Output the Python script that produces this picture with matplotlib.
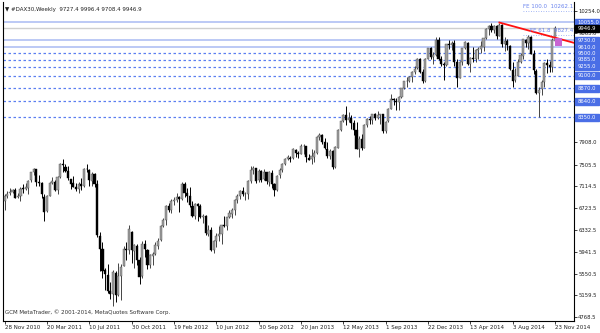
import matplotlib
matplotlib.use("Agg")
import matplotlib.pyplot as plt
import matplotlib.transforms as mtransforms
from matplotlib.patches import Rectangle
import numpy as np

# weekly DAX30 candles, week of 28 Nov 2010 .. week of 23 Nov 2014
opens = [
    6850, 6950, 6990, 7010, 7057,
    6920, 6950, 7080, 7062, 7080, 7220, 7375, 7420, 7190, 7170, 6930, 6670, 6950, 7180, 7200, 7050,
    7290, 7520, 7470, 7390, 7250, 7170, 7100, 7060, 7160, 7130, 7420, 7400, 7210, 7340, 7160, 6220,
    5990, 5610, 5530, 5240, 5180, 5560, 5170, 5500, 5690, 5990, 5980, 6300, 5960, 6050, 5790, 5500,
    6080, 5980, 5710, 5870,
    5900, 6050, 6150, 6400, 6510, 6760, 6690, 6850, 6870, 6920, 6890, 7150, 6990, 6950, 6760, 6580,
    6800, 6760, 6560, 6580, 6260, 6330, 5970, 6140, 6230, 6260, 6420, 6400, 6560, 6620, 6690, 6870,
    6950, 7040, 6970, 6970, 7210, 7410, 7440, 7220, 7390, 7240, 7370, 7200, 7360, 7150, 7050, 7310,
    7410, 7520, 7600, 7630,
    7620, 7770, 7710, 7700, 7830, 7830, 7630, 7600, 7650, 7710, 8000, 8040, 7910, 7790, 7660, 7740,
    7460, 7810, 8120, 8280, 8400, 8300, 8340, 8250, 8130, 7780, 7960, 7810, 8210, 8330, 8300, 8410,
    8340, 8390, 8410, 8100, 8280, 8510, 8670, 8650, 8620, 8720, 8870, 9000, 9010, 9080, 9170, 9230,
    9400, 9170, 9000, 9400,
    9590, 9430, 9470, 9740, 9390, 9300, 9290, 9660, 9650, 9690, 9340, 9060, 9340, 9590, 9690, 9310,
    9410, 9400, 9560, 9580, 9620, 9770, 9940, 9980, 9910, 9980, 9810, 10000, 9660, 9720, 9630, 9200,
    9020, 9100, 9340, 9460, 9740, 9690, 9790, 9480, 9190, 8790, 8860, 8980, 9320, 9290, 9250, 9727.4,
]
highs = [
    6980, 7030, 7080, 7070, 7077,
    7000, 7110, 7160, 7180, 7230, 7380, 7440, 7430, 7310, 7190, 6980, 6960, 7190, 7290, 7220, 7300,
    7530, 7600, 7520, 7480, 7250, 7300, 7180, 7200, 7260, 7440, 7520, 7420, 7380, 7350, 7220, 6300,
    6120, 5660, 5720, 5400, 5610, 5600, 5740, 5720, 6050, 6110, 6430, 6320, 6090, 6080, 5850, 6140,
    6150, 6000, 5900, 5930,
    6120, 6190, 6420, 6540, 6780, 6810, 6880, 6920, 7000, 6950, 7190, 7190, 7080, 7100, 6850, 6820,
    6820, 6790, 6620, 6600, 6420, 6380, 6150, 6280, 6400, 6420, 6580, 6560, 6700, 6720, 6880, 6970,
    7050, 7100, 7020, 7230, 7480, 7480, 7450, 7420, 7400, 7420, 7380, 7390, 7400, 7180, 7320, 7440,
    7540, 7620, 7680, 7660,
    7800, 7790, 7750, 7870, 7870, 7840, 7700, 7780, 7760, 8020, 8080, 8050, 7990, 7910, 7790, 7760,
    7840, 8140, 8290, 8410, 8560, 8450, 8400, 8300, 8260, 8020, 8050, 8230, 8340, 8370, 8420, 8430,
    8460, 8420, 8420, 8290, 8520, 8770, 8690, 8690, 8740, 8880, 9010, 9070, 9100, 9190, 9270, 9420,
    9410, 9220, 9410, 9600,
    9620, 9530, 9800, 9790, 9460, 9340, 9670, 9730, 9720, 9730, 9400, 9370, 9600, 9720, 9700, 9430,
    9610, 9570, 9620, 9720, 9780, 9960, 10000, 10040, 10000, 10000, 10051, 10020, 9800, 9750, 9650, 9350,
    9240, 9390, 9510, 9760, 9750, 9830, 9810, 9550, 9220, 8900, 9020, 9340, 9390, 9370, 9770, 9996.4,
]
lows = [
    6690, 6900, 6960, 6990, 6900,
    6900, 6850, 7000, 7050, 6980, 7200, 7310, 7130, 7120, 6900, 6500, 6660, 6940, 7160, 7030, 6980,
    7260, 7380, 7370, 7230, 7060, 7100, 7040, 7000, 7050, 7110, 7370, 7130, 7120, 7100, 6200, 5600,
    5470, 5250, 5200, 5100, 4970, 5050, 5150, 5080, 5680, 5800, 5900, 5750, 5650, 5700, 5370, 5480,
    5850, 5630, 5650, 5700,
    5880, 6000, 6140, 6380, 6420, 6650, 6630, 6780, 6830, 6650, 6870, 6920, 6840, 6740, 6570, 6530,
    6500, 6540, 6450, 6250, 6220, 5950, 5920, 6020, 6130, 6080, 6380, 6340, 6550, 6540, 6600, 6820,
    6890, 6950, 6870, 6890, 7180, 7330, 7180, 7200, 7200, 7220, 7150, 7130, 7080, 6950, 7040, 7270,
    7380, 7490, 7590, 7560,
    7600, 7640, 7620, 7690, 7700, 7560, 7580, 7520, 7560, 7700, 7950, 7870, 7780, 7630, 7600, 7420,
    7440, 7800, 8110, 8260, 8220, 8260, 8150, 8040, 7780, 7650, 7760, 7800, 8180, 8230, 8240, 8300,
    8330, 8240, 8080, 8080, 8270, 8500, 8580, 8480, 8490, 8700, 8860, 8900, 8980, 8990, 9130, 9210,
    9150, 8970, 8990, 9390,
    9400, 9310, 9460, 9380, 9270, 9020, 9280, 9580, 9560, 9280, 8900, 9050, 9290, 9570, 9290, 9160,
    9340, 9350, 9400, 9510, 9540, 9750, 9820, 9880, 9860, 9760, 9810, 9620, 9540, 9560, 9200, 8900,
    8980, 9090, 9330, 9390, 9620, 9580, 9480, 9130, 8770, 8355, 8760, 8890, 9150, 9170, 9160, 9708.4,
]
closes = [
    6947, 6985, 7010, 7057, 6914,
    6947, 7076, 7062, 7102, 7216, 7371, 7427, 7185, 7178, 6982, 6664, 6947, 7175, 7217, 7044, 7285,
    7514, 7492, 7398, 7256, 7160, 7112, 7070, 7164, 7121, 7420, 7419, 7220, 7345, 7158, 6236, 5997,
    5603, 5537, 5246, 5190, 5574, 5164, 5502, 5676, 5995, 5970, 6346, 5966, 6057, 5800, 5492, 6080,
    5986, 5702, 5878, 5898,
    6057, 6143, 6404, 6512, 6766, 6692, 6849, 6864, 6921, 6880, 7157, 6996, 6947, 6775, 6583, 6801,
    6762, 6561, 6579, 6271, 6339, 5978, 6130, 6229, 6263, 6416, 6410, 6557, 6630, 6689, 6865, 6945,
    7040, 6971, 6970, 7214, 7412, 7451, 7216, 7398, 7233, 7380, 7203, 7364, 7163, 7043, 7309, 7405,
    7518, 7597, 7636, 7612,
    7776, 7715, 7702, 7833, 7833, 7634, 7593, 7661, 7708, 8004, 8043, 7913, 7795, 7659, 7744, 7459,
    7814, 8122, 8278, 8398, 8305, 8348, 8254, 8127, 7789, 7959, 7806, 8212, 8331, 8300, 8410, 8338,
    8391, 8416, 8103, 8276, 8510, 8676, 8661, 8622, 8725, 8870, 9001, 9009, 9078, 9168, 9225, 9405,
    9172, 9006, 9400, 9589,
    9435, 9473, 9742, 9392, 9306, 9291, 9662, 9657, 9692, 9350, 9056, 9342, 9588, 9695, 9315, 9409,
    9402, 9556, 9581, 9630, 9768, 9943, 9987, 9912, 9987, 9815, 10009, 9666, 9720, 9644, 9210, 9010,
    9092, 9339, 9470, 9747, 9691, 9799, 9490, 9195, 8788, 8850, 8988, 9326, 9291, 9252, 9732, 9946.9,
]

date_labels = ["28 Nov 2010", "20 Mar 2011", "10 Jul 2011", "30 Oct 2011", "19 Feb 2012",
               "10 Jun 2012", "30 Sep 2012", "20 Jan 2013", "12 May 2013", "1 Sep 2013",
               "22 Dec 2013", "13 Apr 2014", "3 Aug 2014", "23 Nov 2014"]
price_ticks = [10254.0, 9863.0, 9472.0, 9081.0, 8690.0, 8299.0, 7908.0, 7505.5,
               7114.5, 6723.5, 6332.5, 5941.5, 5550.5, 5159.5, 4768.5]
# scale labels that sit under the level boxes in the reference
hidden_ticks = [9472.0, 9081.0, 8690.0, 8299.0]
solid_levels = [10055.0, 9730.0, 9610.0]
dashed_levels = [9500.0, 9385.0, 9255.0, 9100.0, 8870.0, 8640.0, 8350.0]
bid = 9946.9
fe_levels = [("FE 100.0", 10262.1), ("FE 61.8", 9827.4)]
trend_week = [187, 208]
trend_price = [10051, 9780]

o = np.array(opens, float)
h = np.array(highs, float)
l = np.array(lows, float)
c = np.array(closes, float)
x = np.arange(len(c))

fig = plt.figure(figsize=(6, 3.33), dpi=100)
ax = fig.add_axes([3 / 600, 12 / 333, 571 / 600, 319 / 333])
ax.set_xlim(-0.6, 215.2)
ax.set_ylim(4702, 10419)

blue = "#4a6ee6"
for lv in solid_levels:
    ax.axhline(lv, color="#a9bbf2", lw=1.1, zorder=1)
for lv in dashed_levels:
    ax.axhline(lv, color="#5b7ff0", lw=0.9, ls=(0, (2, 2)), zorder=1)
ax.axhline(bid, color="#cfcfcf", lw=1.0, zorder=1)

# candles
up = c >= o
wick_col = np.where(up, "#444444", "#000000")
ax.vlines(x, l, h, colors=wick_col, lw=0.7, zorder=3)
body = np.maximum(np.abs(c - o), 12)
ax.bar(x, body, bottom=np.minimum(o, c), width=0.8,
       color=np.where(up, "#a0a0a0", "#000000"), edgecolor=np.where(up, "#505050", "#000000"),
       linewidth=0.3, zorder=4)

# trendline (ray)
slope = (trend_price[1] - trend_price[0]) / (trend_week[1] - trend_week[0])
x_end = 215.2
ax.plot([trend_week[0], x_end], [trend_price[0], trend_price[0] + slope * (x_end - trend_week[0])],
        color="#ff1010", lw=1.3, zorder=5)
ax.add_patch(Rectangle((207.9, 9630), 2.6, 140, color="#c864d2", zorder=6, lw=0))

# fibo expansion labels
for name, val in fe_levels:
    ax.plot([196, x_end], [val, val], color="#8aa2f2", lw=0.6, ls=(0, (1, 2)), zorder=2)
    ax.text(214.8, val + 35, "%s  %.1f" % (name, val), fontsize=4, color="#6a84ee",
            ha="right", va="bottom", zorder=7)

# axes styling
ax.spines["top"].set_visible(False)
for s in ["left", "right", "bottom"]:
    ax.spines[s].set_color("#000000")
    ax.spines[s].set_linewidth(0.8)

ax.yaxis.tick_right()
ax.set_yticks(price_ticks)
ax.set_yticklabels(["" if v in hidden_ticks else "%.1f" % v for v in price_ticks])
ax.tick_params(axis="y", length=2, width=0.6, pad=1, labelsize=3.8, colors="#202020")
ax.set_xticks(np.arange(0, len(c), 16))
ax.set_xticklabels(date_labels)
ax.tick_params(axis="x", length=2, width=0.6, pad=1, labelsize=4, colors="#202020")
for lbl in ax.get_xticklabels():
    lbl.set_ha("left")

# price boxes on the right scale
tr = mtransforms.blended_transform_factory(ax.transAxes, ax.transData)
box_h = 7 / 0.0558
for lv in solid_levels + dashed_levels:
    ax.add_patch(Rectangle((1.002, lv - box_h / 2), 0.042, box_h, transform=tr,
                           color=blue, clip_on=False, zorder=8))
    ax.text(1.006, lv, "%.1f" % lv, transform=tr, fontsize=3.8, color="white",
            va="center", ha="left", zorder=9, clip_on=False)
ax.add_patch(Rectangle((1.002, bid - box_h / 2), 0.042, box_h, transform=tr,
                       color="black", clip_on=False, zorder=8))
ax.text(1.006, bid, "%.1f" % bid, transform=tr, fontsize=3.8, color="white",
        va="center", ha="left", zorder=9, clip_on=False)

ax.text(0.004, 0.985, "\u25bc #DAX30,Weekly  %.1f %.1f %.1f %.1f" % (o[-1], h[-1], l[-1], c[-1]),
        transform=ax.transAxes, fontsize=4, color="#202020", va="top", ha="left")
ax.text(0.004, 0.02, "GCM MetaTrader, \u00a9 2001-2014, MetaQuotes Software Corp.",
        transform=ax.transAxes, fontsize=4, color="#303030", va="bottom", ha="left")

fig.savefig("out.png", dpi=100)
